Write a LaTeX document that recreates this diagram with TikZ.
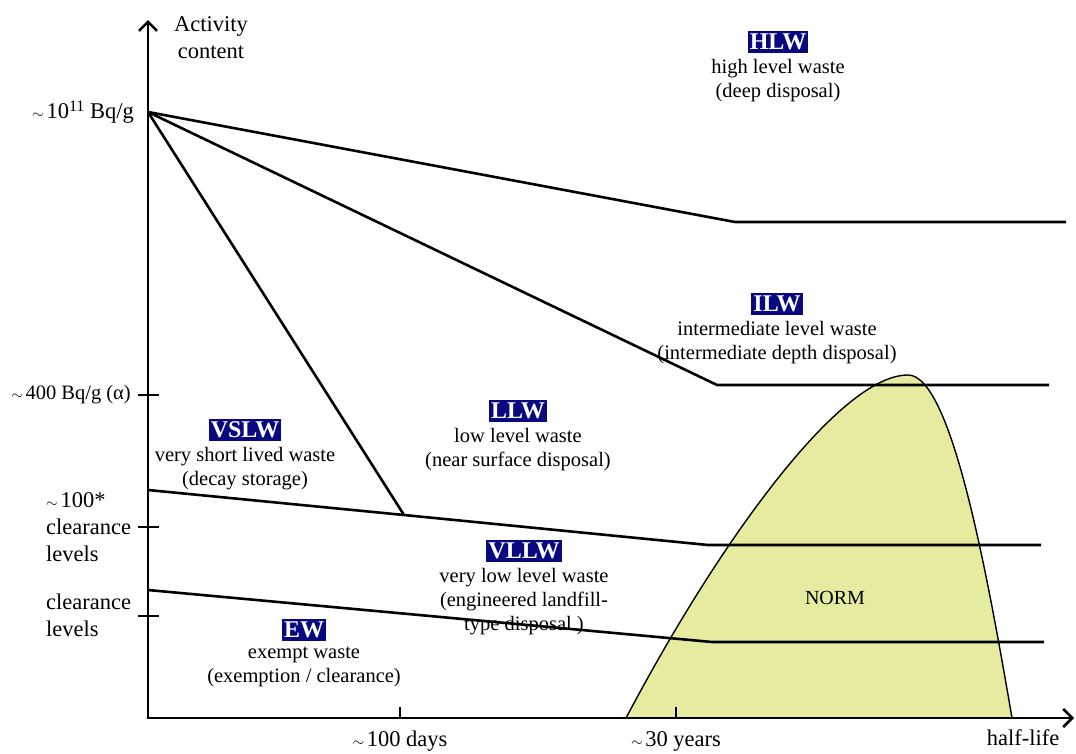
\documentclass[tikz,border=0pt]{standalone}
\usepackage{fontspec}
\setmainfont{Liberation Serif}
\usetikzlibrary{arrows.meta}
\definecolor{navyb}{RGB}{8,8,128}
\definecolor{normfill}{RGB}{230,235,160}
\newcommand{\apx}{\scalebox{0.72}{$\sim$}\hspace{0.12em}}
\begin{document}
\begin{tikzpicture}[x=1pt,y=-1pt,
  axis/.style={line width=2.8pt,-{Straight Barb[length=9pt,width=18pt,line width=2.6pt]}},
  bound/.style={line width=2.6pt,line join=round},
  tickline/.style={line width=1.5pt},
  axlab/.style={font=\fontsize{22.5}{27}\selectfont,inner sep=0pt,align=center},
  tag/.style={fill=navyb,text=white,font=\fontsize{24}{24}\selectfont\bfseries,inner xsep=2pt,inner ysep=2.5pt},
  desc/.style={font=\fontsize{20.5}{24}\selectfont,inner sep=0pt,align=center,anchor=north}]
\useasboundingbox (0,0) rectangle (1076,753);
% NORM region
\draw[fill=normfill,line width=1.4pt] (626,718) .. controls (720,540) and (840,375) .. (908,375)
   .. controls (950,375) and (985,560) .. (1012,718) -- cycle;
\node[font=\fontsize{20}{20}\selectfont] (norm) at (835,598) {NORM};
% named points
\coordinate (O) at (148,112);
\coordinate (h1) at (735,222); \coordinate (h2) at (1066,222);
\coordinate (i1) at (717,385); \coordinate (i2) at (1049,385);
\coordinate (v0) at (404,515);
\coordinate (l0) at (148,490); \coordinate (l1) at (708,545); \coordinate (l2) at (1041,545);
\coordinate (e0) at (148,590); \coordinate (e1) at (712,642); \coordinate (e2) at (1044,642);
% boundaries
\draw[bound] (O) -- (h1) -- (h2);
\draw[bound] (O) -- (i1) -- (i2);
\draw[bound] (O) -- (v0);
\draw[bound] (l0) -- (v0) -- (l1) -- (l2);
\draw[bound] (e0) -- (e1) -- (e2);
% axes
\coordinate (orig) at (148,718);
\coordinate (ytop) at (148,20);
\coordinate (xend) at (1074,718);
\draw[axis] (orig) -- (ytop);
\draw[axis] ([xshift=-1.4pt]orig) -- (xend);
% ticks
\draw[tickline] (138,395) -- (159,395);
\draw[tickline] (138,527) -- (159,527);
\draw[tickline] (138,616) -- (159,616);
\draw[tickline] (400,707) -- (400,718);
\draw[tickline] (676,707) -- (676,718);
% axis labels
\node[axlab] (yl) at (211,38) {Activity\\content};
\node[axlab,anchor=east] (t1) at (134,112) {\apx 10\raisebox{0.32em}{\fontsize{16}{16}\selectfont 11} Bq/g};
\node[axlab,anchor=east,font=\fontsize{20.5}{24}\selectfont] (t2) at (131,395) {\apx 400 Bq/g (α)};
\node[axlab,align=left,anchor=west] (t3) at (46,527) {\apx 100*\\clearance\\levels};
\node[axlab,align=left,anchor=west] (t4) at (46,615) {clearance\\levels};
\node[axlab] (x1) at (400,741) {\apx 100 days};
\node[axlab] (x2) at (676,741) {\apx 30 years};
\node[axlab] (x3) at (1023,738) {half-life};
% region labels
\node[tag] (hlw) at (778,42) {HLW};
\node[desc] (hlwd) at ([yshift=-6pt]hlw.south) {high level waste\\(deep disposal)};
\node[tag] (ilw) at (777,304) {ILW};
\node[desc] (ilwd) at ([yshift=-6pt]ilw.south) {intermediate level waste\\(intermediate depth disposal)};
\node[tag] (llw) at (518,411) {LLW};
\node[desc] (llwd) at ([yshift=-6pt]llw.south) {low level waste\\(near surface disposal)};
\node[tag] (vslw) at (245,430) {VSLW};
\node[desc] (vslwd) at ([yshift=-6pt]vslw.south) {very short lived waste\\(decay storage)};
\node[tag] (vllw) at (524,551) {VLLW};
\node[desc] (vllwd) at ([yshift=-6pt]vllw.south) {very low level waste\\(engineered landfill-\\type disposal )};
\node[tag] (ew) at (304,630) {EW};
\node[desc] (ewd) at ([yshift=-6pt]ew.south) {exempt waste\\(exemption / clearance)};
\end{tikzpicture}
\end{document}
